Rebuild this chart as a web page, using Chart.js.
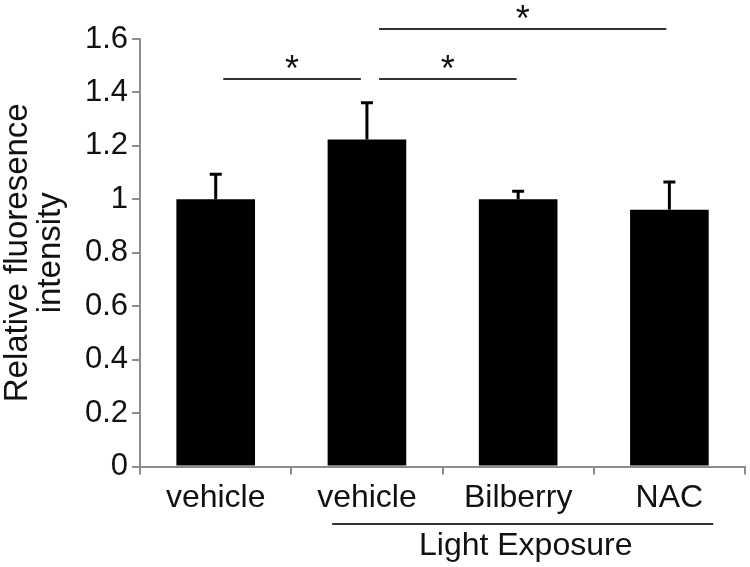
<!DOCTYPE html>
<html>
<head>
<meta charset="utf-8">
<script src="https://cdn.jsdelivr.net/npm/chart.js@4/dist/chart.umd.min.js"></script>
<style>
  html, body { margin:0; padding:0; background:#fff; }
  #wrap { width:750px; height:567px; }
</style>
</head>
<body>
<div id="wrap"><canvas id="chart" width="750" height="567"></canvas></div>
<script>
/* ===== DATA ===== */
const categories  = ['vehicle', 'vehicle', 'Bilberry', 'NAC'];
const values      = [1.0, 1.224, 1.0, 0.961];
const errors      = [0.094, 0.137, 0.03, 0.104];
const yTickLabels = ['0', '0.2', '0.4', '0.6', '0.8', '1', '1.2', '1.4', '1.6'];
const yTitle      = ['Relative fluoresence', 'intensity'];

// significance brackets: [from index, to index, y value]
const sigFrom  = [0.05, 1.08, 1.08];
const sigTo    = [0.96, 1.99, 2.98];
const sigLevel = [1.45, 1.45, 1.637];
const sigText  = ['*', '*', '*'];

// group label under the x axis
const groupLabel = 'Light Exposure';
const groupFrom  = 0.77;
const groupTo    = 3.29;

const FONT = "'Liberation Sans', Arial, sans-serif";
const AXIS_GRAY = '#8c8c8c';

/* ===== PLUGINS ===== */
const errorBars = {
  id: 'errorBars',
  afterDatasetsDraw(chart) {
    const { ctx, scales: { x, y } } = chart;
    ctx.save();
    ctx.strokeStyle = '#000';
    ctx.lineWidth = 3;
    values.forEach((v, i) => {
      const px = x.getPixelForValue(i);
      const top = y.getPixelForValue(v + errors[i]);
      const base = y.getPixelForValue(v);
      ctx.beginPath();
      ctx.moveTo(px, base);
      ctx.lineTo(px, top);
      ctx.moveTo(px - 6, top);
      ctx.lineTo(px + 6, top);
      ctx.stroke();
    });
    ctx.restore();
  }
};

const annotations = {
  id: 'annotations',
  afterDraw(chart) {
    const { ctx, scales: { x, y } } = chart;
    ctx.save();
    ctx.strokeStyle = '#333';
    ctx.fillStyle = '#111';
    ctx.lineWidth = 2;
    ctx.textAlign = 'center';
    ctx.textBaseline = 'middle';

    // significance lines + stars
    sigFrom.forEach((f, i) => {
      const x1 = x.getPixelForValue(f), x2 = x.getPixelForValue(sigTo[i]);
      const py = Math.round(y.getPixelForValue(sigLevel[i]));
      ctx.beginPath(); ctx.moveTo(x1, py); ctx.lineTo(x2, py); ctx.stroke();
      ctx.font = `36px ${FONT}`;
      ctx.fillText(sigText[i], (x1 + x2) / 2, py - 8);
    });

    // group line + label
    const g1 = x.getPixelForValue(groupFrom), g2 = x.getPixelForValue(groupTo);
    const gy = 524;
    ctx.beginPath(); ctx.moveTo(g1, gy); ctx.lineTo(g2, gy); ctx.stroke();
    ctx.font = `32px ${FONT}`;
    ctx.fillText(groupLabel, x.getPixelForValue(2.05), 546);
    ctx.restore();
  }
};

/* ===== CHART ===== */
new Chart(document.getElementById('chart'), {
  type: 'bar',
  data: {
    labels: categories,
    datasets: [{
      data: values,
      backgroundColor: '#000',
      borderWidth: 0,
      barPercentage: 0.52,
      categoryPercentage: 1.0
    }]
  },
  options: {
    responsive: false,
    animation: false,
    layout: { padding: { top: 39, right: 5, bottom: 46, left: 1 } },
    plugins: { legend: { display: false }, tooltip: { enabled: false } },
    scales: {
      x: {
        grid: { offset: true, drawOnChartArea: false, color: AXIS_GRAY, tickLength: 8, lineWidth: 2 },
        border: { color: AXIS_GRAY, width: 2 },
        ticks: { color: '#111', font: { family: FONT, size: 32 }, padding: 4 }
      },
      y: {
        min: 0, max: 1.6,
        grid: { drawOnChartArea: false, color: AXIS_GRAY, tickLength: 8, lineWidth: 2 },
        border: { color: AXIS_GRAY, width: 2 },
        ticks: {
          stepSize: 0.2,
          color: '#111',
          padding: 4,
          font: { family: FONT, size: 31 },
          callback: (v, i) => yTickLabels[i]
        },
        title: {
          display: true,
          text: yTitle,
          color: '#111',
          font: { family: FONT, size: 33, lineHeight: 1.0 },
          padding: { top: 0, bottom: 14 }
        }
      }
    }
  },
  plugins: [errorBars, annotations]
});
</script>
</body>
</html>
